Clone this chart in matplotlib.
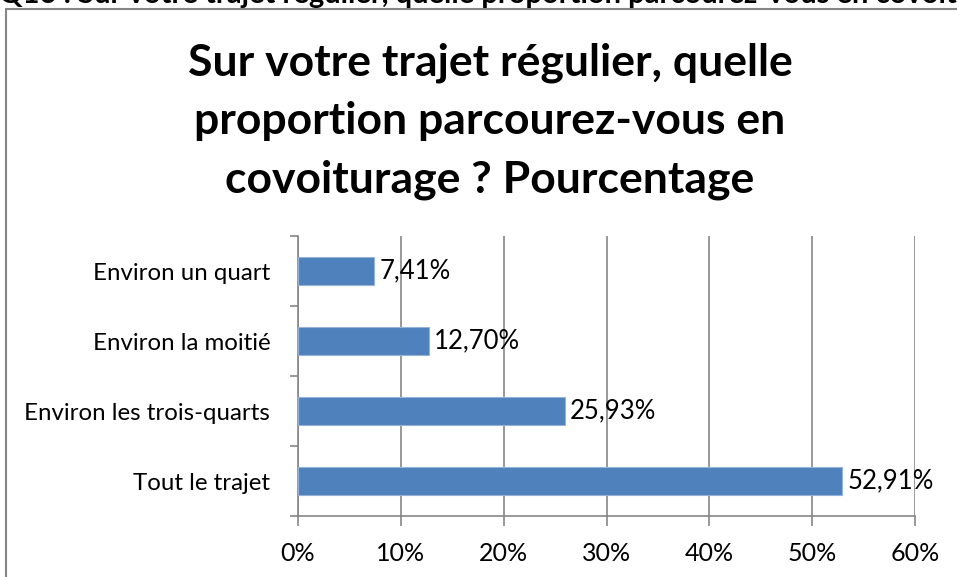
import matplotlib
matplotlib.use("Agg")
import matplotlib.pyplot as plt
from matplotlib.patches import Rectangle
from matplotlib.ticker import FuncFormatter, MultipleLocator

plt.rcParams['font.family'] = ['Lato', 'DejaVu Sans']

# donnees
categories = ["Tout le trajet", "Environ les trois-quarts", "Environ la moitié", "Environ un quart"]
valeurs = [52.91, 25.93, 12.70, 7.41]
etiquettes = ["52,91%", "25,93%", "12,70%", "7,41%"]

titre = "Sur votre trajet régulier, quelle\nproportion parcourez-vous en\ncovoiturage ? Pourcentage"
entete = "Q16 : Sur votre trajet régulier, quelle proportion parcourez-vous en covoiturage ?"

gris = "#868686"
bleu = "#4F81BD"

fig = plt.figure(figsize=(9.57, 5.77), dpi=100)
W, H = 957, 577

# cadre du graphique (coupe a droite et en bas)
fig.patches.append(Rectangle((6 / W, -0.1), 1.2, 1 - 9 / H + 0.1, transform=fig.transFigure,
                             fill=False, edgecolor=gris, linewidth=1.5))
# entete coupe en haut comme sur la capture
fig.text(-1 / W, 1 + 5 / H, entete, fontsize=21, fontweight='bold', ha='left', va='center')

# zone de trace
x0, x1 = 298 / W, 915 / W
y0, y1 = 1 - 516 / H, 1 - 236 / H
ax = fig.add_axes([x0, y0, x1 - x0, y1 - y0])

pos = range(len(categories))
ax.barh(pos, valeurs, height=0.39, color=bleu, edgecolor="#95B3D7", linewidth=0.8, zorder=3)
for p, v, t in zip(pos, valeurs, etiquettes):
    ax.text(v + 0.5, p, t, va='center', ha='left', fontsize=18.5, color='black', zorder=4)

ax.set_xlim(0, 60)
ax.set_ylim(-0.5, len(categories) - 0.5)
ax.xaxis.set_major_locator(MultipleLocator(10))
ax.xaxis.set_major_formatter(FuncFormatter(lambda x, _: f"{x:.0f}%"))
ax.set_yticks(pos)
ax.set_yticklabels(categories)
ax.set_yticks([-0.5, 0.5, 1.5, 2.5, 3.5], minor=True)
ax.tick_params(axis='y', which='major', length=0, pad=20, labelsize=17.3)
ax.tick_params(axis='y', which='minor', length=6, width=1.2, color=gris)
ax.tick_params(axis='x', length=7, width=1.2, color=gris, labelsize=18, pad=12)
ax.grid(axis='x', color=gris, linewidth=1.2, zorder=0)

for s in ['top', 'right']:
    ax.spines[s].set_visible(False)
for s in ['left', 'bottom']:
    ax.spines[s].set_color(gris)
    ax.spines[s].set_linewidth(1.2)

fig.text(490 / W, 1 - 121 / H, titre, fontsize=32, fontweight='bold', ha='center', va='center',
         linespacing=1.55)

fig.savefig("out.png", dpi=100)
